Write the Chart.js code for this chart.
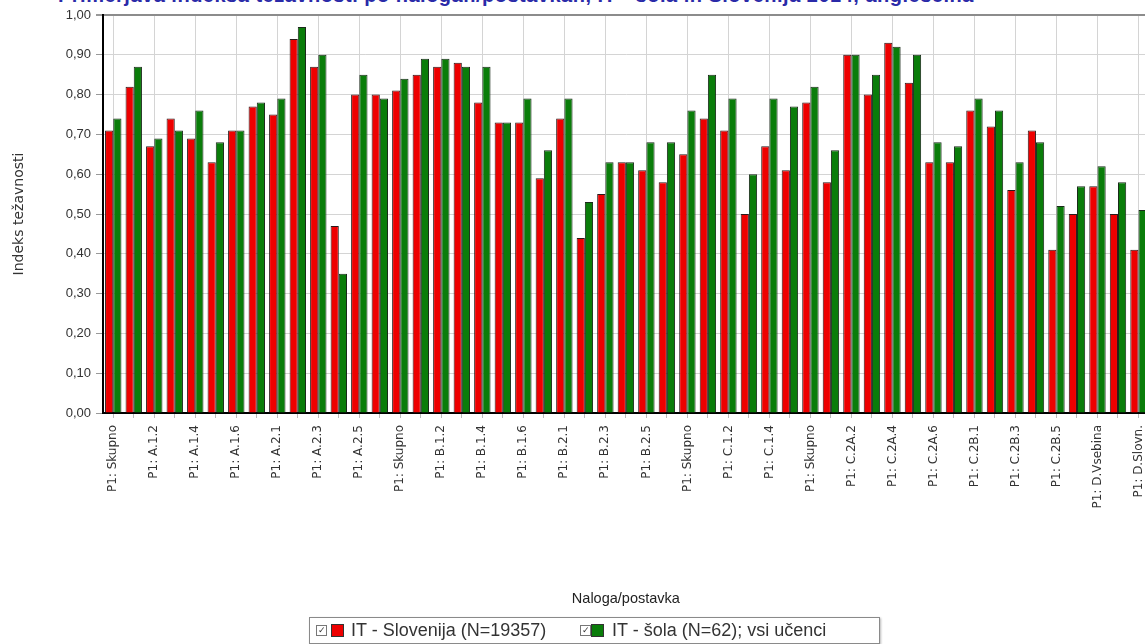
<!DOCTYPE html>
<html>
<head>
<meta charset="utf-8">
<script src="https://cdn.jsdelivr.net/npm/chart.js@4.4.1/dist/chart.umd.min.js"></script>
<style>
  html, body { margin:0; padding:0; background:#fff; width:1145px; height:644px; overflow:hidden; position:relative; font-family:"Liberation Sans", Arial, sans-serif; }
  #title { position:absolute; left:58px; top:-15px; white-space:nowrap; font-weight:bold; font-size:20px; line-height:20px; color:#2a2aa8; letter-spacing:0.5px; }
  #c { position:absolute; left:0; top:0; }
  #legend { position:absolute; left:309px; top:617px; width:569px; height:25px; border:1px solid #8a8a8a; background:#fff; box-shadow:1px 1px 2px #bbb; font-size:18px; color:#333; }
  .item { position:absolute; top:0; height:25px; line-height:25px; white-space:nowrap; }
  .cb { position:absolute; top:7px; width:9px; height:9px; border:1px solid #777; background:#fff; font-size:9px; line-height:9px; text-align:center; color:#333; }
  .sw { position:absolute; top:6px; width:11px; height:11px; border:1px solid #333; }
</style>
</head>
<body>
<div id="title">Primerjava indeksa težavnosti po nalogah/postavkah, IT - šola in Slovenija 2014, angleščina</div>
<canvas id="c" width="1160" height="618"></canvas>
<div id="legend">
  <span class="cb" style="left:6px">✓</span><span class="sw" style="left:21px;background:#ee0000"></span>
  <span class="item" style="left:41px">IT - Slovenija (N=19357)</span>
  <span class="cb" style="left:270px">✓</span><span class="sw" style="left:281px;background:#0a7d0a"></span>
  <span class="item" style="left:302px">IT - šola (N=62); vsi učenci</span>
</div>
<script>
const categories = [
  "P1: Skupno","P1: A.1.1","P1: A.1.2","P1: A.1.3","P1: A.1.4","P1: A.1.5","P1: A.1.6","P1: A.1.7",
  "P1: A.2.1","P1: A.2.2","P1: A.2.3","P1: A.2.4","P1: A.2.5","P1: A.2.6",
  "P1: Skupno","P1: B.1.1","P1: B.1.2","P1: B.1.3","P1: B.1.4","P1: B.1.5","P1: B.1.6","P1: B.1.7",
  "P1: B.2.1","P1: B.2.2","P1: B.2.3","P1: B.2.4","P1: B.2.5","P1: B.2.6",
  "P1: Skupno","P1: C.1.1","P1: C.1.2","P1: C.1.3","P1: C.1.4","P1: C.1.5",
  "P1: Skupno","P1: C.2A.1","P1: C.2A.2","P1: C.2A.3","P1: C.2A.4","P1: C.2A.5","P1: C.2A.6","P1: C.2A.7",
  "P1: C.2B.1","P1: C.2B.2","P1: C.2B.3","P1: C.2B.4","P1: C.2B.5","P1: C.2B.6",
  "P1: D.Vsebina","P1: D.Zgradba","P1: D.Slovn."
];
const slovenija = [
  0.71,0.82,0.67,0.74,0.69,0.63,0.71,0.77,0.75,0.94,0.87,0.47,0.80,0.80,
  0.81,0.85,0.87,0.88,0.78,0.73,0.73,0.59,0.74,0.44,0.55,0.63,0.61,0.58,
  0.65,0.74,0.71,0.50,0.67,0.61,
  0.78,0.58,0.90,0.80,0.93,0.83,0.63,0.63,0.76,0.72,0.56,0.71,0.41,0.50,
  0.57,0.50,0.41
];
const sola = [
  0.74,0.87,0.69,0.71,0.76,0.68,0.71,0.78,0.79,0.97,0.90,0.35,0.85,0.79,
  0.84,0.89,0.89,0.87,0.87,0.73,0.79,0.66,0.79,0.53,0.63,0.63,0.68,0.68,
  0.76,0.85,0.79,0.60,0.79,0.77,
  0.82,0.66,0.90,0.85,0.92,0.90,0.68,0.67,0.79,0.76,0.63,0.68,0.52,0.57,
  0.62,0.58,0.51
];
const seriesNames = ["IT - Slovenija (N=19357)", "IT - šola (N=62); vsi učenci"];

const FONT = "'Liberation Sans', Arial, sans-serif";
new Chart(document.getElementById('c'), {
  type: 'bar',
  data: {
    labels: categories,
    datasets: [
      { label: seriesNames[0], data: slovenija, backgroundColor: '#ee0000', borderColor: '#2a1a1a', borderWidth: 1, categoryPercentage: 0.8, barPercentage: 1.0 },
      { label: seriesNames[1], data: sola, backgroundColor: '#0a7d0a', borderColor: '#1a2a1a', borderWidth: 1, categoryPercentage: 0.8, barPercentage: 1.0 }
    ]
  },
  options: {
    responsive: false,
    animation: false,
    devicePixelRatio: 1,
    layout: { padding: { top: 15, right: 11, left: 0, bottom: 0 } },
    plugins: { legend: { display: false }, title: { display: false }, tooltip: { enabled: false } },
    scales: {
      x: {
        offset: true,
        grid: {
          offset: false,
          color: (ctx) => (ctx.index % 2 === 0 ? '#d4d4d4' : 'rgba(0,0,0,0)'),
          tickColor: '#bbb',
          tickLength: 5,
          lineWidth: 1
        },
        border: { color: '#000', width: 2 },
        ticks: {
          autoSkip: false,
          minRotation: 90, maxRotation: 90,
          padding: 7,
          color: '#333',
          font: { family: "'DejaVu Sans', sans-serif", size: 12 },
          callback: function(v, i) { return i % 2 === 0 ? this.getLabelForValue(v) : ''; }
        },
        title: { display: true, text: 'Naloga/postavka', color: '#222', font: { family: FONT, size: 14.5 }, padding: { top: 4, bottom: 10 } },
        afterFit: (s) => { s.height = 205; }
      },
      y: {
        min: 0, max: 1,
        ticks: {
          stepSize: 0.1,
          color: '#333',
          padding: 5,
          font: { family: FONT, size: 13 },
          callback: (v) => Number(v).toFixed(2).replace('.', ',')
        },
        grid: {
          color: (ctx) => (ctx.tick && Math.abs(ctx.tick.value - 1) < 1e-6 ? '#8c8c8c' : '#d4d4d4'),
          lineWidth: (ctx) => (ctx.tick && Math.abs(ctx.tick.value - 1) < 1e-6 ? 2 : 1),
          tickColor: '#999',
          tickLength: 7
        },
        border: { color: '#000', width: 2 },
        title: { display: true, text: 'Indeks težavnosti', color: '#333', font: { family: "'DejaVu Sans', sans-serif", size: 14 }, padding: { top: 11, bottom: 4 } },
        afterFit: (s) => { s.width = 103; }
      }
    }
  }
});
</script>
</body>
</html>
